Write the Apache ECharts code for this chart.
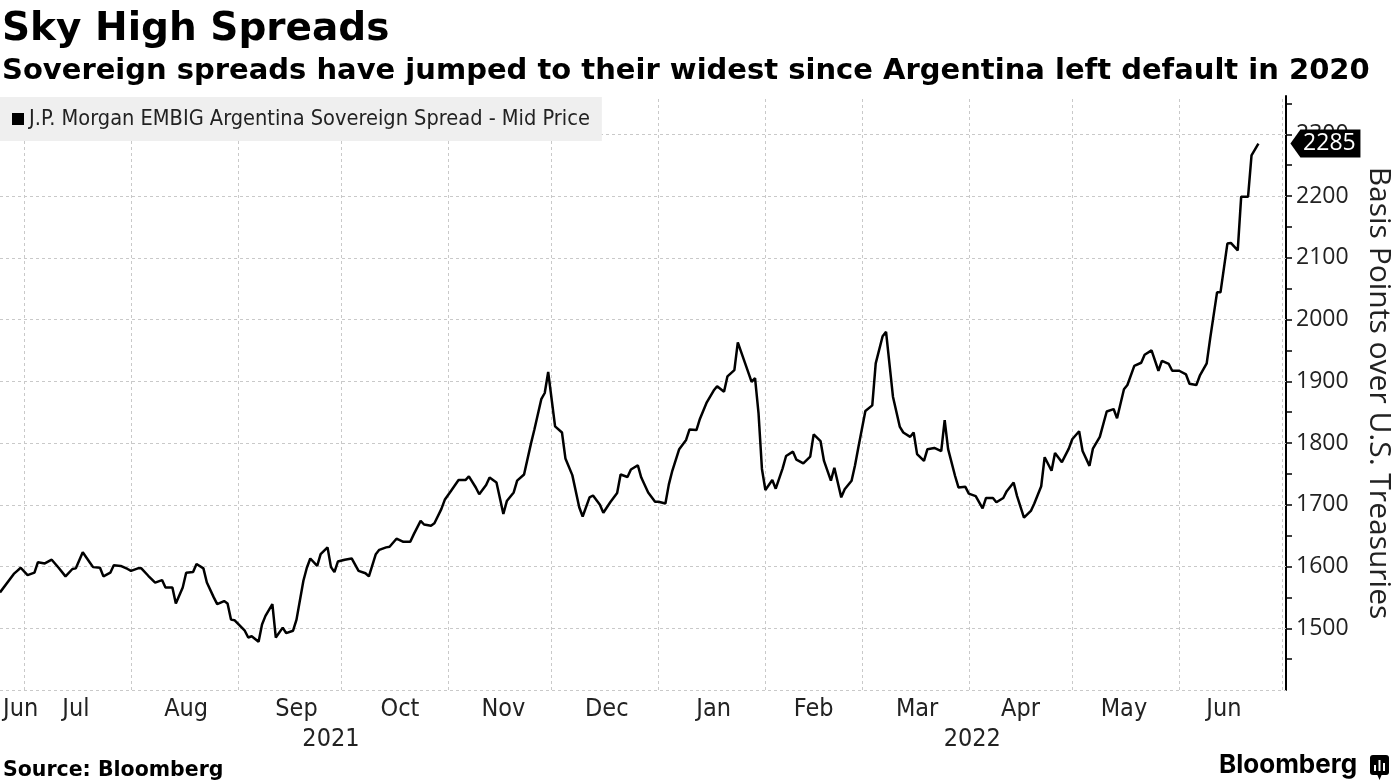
<!DOCTYPE html>
<html>
<head>
<meta charset="utf-8">
<script src="https://cdn.jsdelivr.net/npm/echarts@6/dist/echarts.min.js"></script>
<style>
html,body{margin:0;padding:0;background:#fff;}
#chart{width:1395px;height:784px;}
</style>
</head>
<body>
<div id="chart"></div>
<script>
// ---- data ----
const seriesName = 'J.P. Morgan EMBIG Argentina Sovereign Spread - Mid Price';
const dates = [
'2021-06-24','2021-06-28','2021-06-29','2021-06-30',
'2021-07-02','2021-07-04','2021-07-05','2021-07-07','2021-07-09','2021-07-11','2021-07-13','2021-07-15','2021-07-16','2021-07-18','2021-07-20','2021-07-21','2021-07-23','2021-07-24','2021-07-26','2021-07-27','2021-07-29','2021-07-31',
'2021-08-01','2021-08-03','2021-08-04','2021-08-06','2021-08-08','2021-08-10','2021-08-11','2021-08-13','2021-08-14','2021-08-16','2021-08-17','2021-08-19','2021-08-20','2021-08-22','2021-08-23','2021-08-25','2021-08-26','2021-08-28','2021-08-29','2021-08-30','2021-08-31',
'2021-09-03','2021-09-04','2021-09-05','2021-09-07','2021-09-08','2021-09-09','2021-09-11','2021-09-12','2021-09-14','2021-09-15','2021-09-17','2021-09-18','2021-09-20','2021-09-21','2021-09-22','2021-09-24','2021-09-25','2021-09-27','2021-09-28','2021-09-29','2021-09-30',
'2021-10-02','2021-10-04','2021-10-06','2021-10-08','2021-10-09','2021-10-11','2021-10-12','2021-10-14','2021-10-15','2021-10-17','2021-10-19','2021-10-21','2021-10-22','2021-10-24','2021-10-25','2021-10-27','2021-10-28','2021-10-30','2021-10-31',
'2021-11-02','2021-11-04','2021-11-06','2021-11-07','2021-11-09','2021-11-10','2021-11-12','2021-11-13','2021-11-15','2021-11-17','2021-11-18','2021-11-20','2021-11-21','2021-11-23','2021-11-25','2021-11-26','2021-11-28','2021-11-29','2021-11-30',
'2021-12-02','2021-12-04','2021-12-05','2021-12-07','2021-12-09','2021-12-10','2021-12-12','2021-12-13','2021-12-15','2021-12-16','2021-12-18','2021-12-20','2021-12-21','2021-12-23','2021-12-24','2021-12-26','2021-12-27','2021-12-29','2021-12-31',
'2022-01-01','2022-01-03','2022-01-04','2022-01-05','2022-01-07','2022-01-09','2022-01-10','2022-01-12','2022-01-13','2022-01-15','2022-01-17','2022-01-18','2022-01-20','2022-01-21','2022-01-23','2022-01-24','2022-01-26','2022-01-28','2022-01-29','2022-01-30','2022-01-31',
'2022-02-01','2022-02-03','2022-02-04','2022-02-06','2022-02-07','2022-02-09','2022-02-10','2022-02-12','2022-02-14','2022-02-15','2022-02-17','2022-02-18','2022-02-20','2022-02-21','2022-02-23','2022-02-24','2022-02-26','2022-02-27','2022-02-28',
'2022-03-02','2022-03-04','2022-03-05','2022-03-07','2022-03-08','2022-03-10','2022-03-12','2022-03-13','2022-03-15','2022-03-16','2022-03-17','2022-03-19','2022-03-20','2022-03-22','2022-03-24','2022-03-25','2022-03-26','2022-03-28','2022-03-29','2022-03-31',
'2022-04-01','2022-04-03','2022-04-05','2022-04-06','2022-04-08','2022-04-09','2022-04-11','2022-04-12','2022-04-14','2022-04-15','2022-04-17','2022-04-19','2022-04-20','2022-04-22','2022-04-23','2022-04-25','2022-04-26','2022-04-28','2022-04-30',
'2022-05-01','2022-05-03','2022-05-04','2022-05-06','2022-05-07','2022-05-09','2022-05-11','2022-05-13','2022-05-14','2022-05-16','2022-05-17','2022-05-19','2022-05-21','2022-05-22','2022-05-24','2022-05-26','2022-05-27','2022-05-29','2022-05-30',
'2022-06-01','2022-06-03','2022-06-04','2022-06-06','2022-06-07','2022-06-09','2022-06-10','2022-06-12','2022-06-13','2022-06-15','2022-06-16','2022-06-18','2022-06-19','2022-06-21','2022-06-22','2022-06-24'
];
const spreads = [
1558,1588,1593,1598,
1586,1590,1607,1605,1611,1598,1584,1596,1597,1623,1607,1599,1598,1584,1590,1602,1601,1596,
1593,1597,1597,1585,1574,1578,1566,1566,1540,1566,1590,1591,1604,1597,1574,1550,1539,1544,1540,1514,1513,
1496,1485,1487,1478,1506,1520,1539,1485,1501,1492,1496,1514,1577,1598,1613,1601,1620,1631,1599,1591,1608,
1611,1613,1593,1589,1584,1620,1627,1631,1632,1645,1640,1640,1652,1674,1668,1666,1670,1693,1708,
1724,1740,1740,1746,1728,1717,1732,1744,1736,1685,1706,1720,1739,1749,1799,1822,1871,1881,1915,
1827,1817,1775,1748,1696,1681,1712,1715,1700,1687,1704,1719,1749,1745,1757,1764,1744,1720,1705,
1705,1702,1733,1755,1790,1805,1822,1821,1839,1866,1885,1892,1883,1908,1918,1963,1931,1899,1905,1849,1758,
1724,1740,1726,1759,1779,1786,1773,1767,1778,1814,1803,1771,1739,1760,1712,1725,1739,1764,1794,
1852,1861,1929,1973,1980,1875,1826,1817,1810,1817,1782,1771,1790,1792,1787,1837,1790,1747,1728,1729,
1718,1714,1694,1711,1711,1704,1711,1722,1736,1714,1679,1690,1702,1730,1777,1755,1784,1769,1791,
1806,1819,1787,1763,1791,1810,1851,1855,1840,1887,1894,1925,1930,1943,1950,1917,1933,1928,1917,
1917,1911,1896,1894,1909,1929,1969,2044,2044,2123,2124,2112,2199,2199,2266,2285
];
// axis range and tick / label values
const axisStart = '2021-06-24';
const axisEnd = '2022-07-02';
const monthStarts = ['2021-07-01','2021-08-01','2021-09-01','2021-10-01','2021-11-01','2021-12-01','2022-01-01','2022-02-01','2022-03-01','2022-04-01','2022-05-01','2022-06-01','2022-07-01'];
const monthLabelDates = ['2021-06-30','2021-07-16','2021-08-17','2021-09-18','2021-10-18','2021-11-17','2021-12-17','2022-01-17','2022-02-15','2022-03-17','2022-04-16','2022-05-16','2022-06-14'];
const yearLabelDates = ['2021-09-28','2022-04-02'];
const yGridValues = [1400,1500,1600,1700,1800,1900,2000,2100,2200,2300];
const monthNames = ['Jan','Feb','Mar','Apr','May','Jun','Jul','Aug','Sep','Oct','Nov','Dec'];

function ts(s){ const p = s.split('-').map(Number); return new Date(p[0], p[1]-1, p[2]).getTime(); }

const seriesData = dates.map((d, i) => [ts(d), spreads[i]]);
const lastIdx = dates.length - 1;

const NARROW = '"Liberation Sans Narrow", "DejaVu Sans Condensed", "Arial Narrow", sans-serif';
const gridColor = '#c9c9c9';
const gridLine = {type: [3, 3], color: gridColor, width: 1};

const chart = echarts.init(document.getElementById('chart'), null, {renderer: 'canvas'});
chart.setOption({
  animation: false,
  backgroundColor: '#ffffff',
  title: [
    {text: 'Sky High Spreads', left: 2, top: 10, padding: 0,
     textStyle: {fontFamily: 'DejaVu Sans', fontWeight: 'bold', fontSize: 39, color: '#000'}},
    {text: 'Sovereign spreads have jumped to their widest since Argentina left default in 2020', left: 2, top: 57, padding: 0,
     textStyle: {fontFamily: 'DejaVu Sans', fontWeight: 'bold', fontSize: 29, color: '#000'}}
  ],
  legend: {
    left: 0, top: 97, padding: [11, 12, 11, 12], backgroundColor: '#efefef', z: 20,
    itemWidth: 12, itemHeight: 12, icon: 'rect', selectedMode: false,
    textStyle: {fontFamily: NARROW, fontSize: 21.6, color: '#222'},
    data: [seriesName]
  },
  grid: {left: 0, right: 109, top: 96, bottom: 94, containLabel: false, outerBoundsMode: 'none'},
  xAxis: [
    {type: 'value', min: ts(axisStart), max: ts(axisEnd), scale: true,
     axisLine: {show: false}, axisTick: {show: false}, splitLine: {show: false},
     axisLabel: {customValues: monthLabelDates.map(ts), margin: 7,
       fontFamily: NARROW, fontSize: 25, color: '#222',
       formatter: v => monthNames[new Date(v).getMonth()]}
    },
    {type: 'value', min: ts(axisStart), max: ts(axisEnd), scale: true, position: 'bottom', offset: 30,
     axisLine: {show: false}, axisTick: {show: false}, splitLine: {show: false},
     axisLabel: {customValues: yearLabelDates.map(ts), margin: 7,
       fontFamily: NARROW, fontSize: 25, color: '#222',
       formatter: v => String(new Date(v).getFullYear())}
    }
  ],
  yAxis: {
    type: 'value', position: 'right', min: 1400, max: 2362, interval: 50,
    axisLine: {show: true, onZero: false, lineStyle: {color: '#000', width: 2}},
    axisTick: {show: true, length: 6, lineStyle: {color: '#000', width: 1.5}},
    splitLine: {show: false},
    axisLabel: {margin: 10, fontFamily: 'Open Sans', fontSize: 23, color: '#222',
      showMaxLabel: false, showMinLabel: false,
      formatter: v => (v % 100 === 0 ? String(v) : '')},
    name: 'Basis Points over U.S. Treasuries', nameLocation: 'middle', nameRotate: -90, nameGap: 78,
    nameTextStyle: {fontFamily: 'Open Sans', fontSize: 30, color: '#222'}
  },
  series: [
    {
      type: 'line', name: 'grid', data: [], xAxisIndex: 0, yAxisIndex: 0, z: 1, silent: true,
      markLine: {
        silent: true, symbol: 'none', label: {show: false}, lineStyle: gridLine, z: 1,
        data: yGridValues.map(v => ({yAxis: v})).concat(monthStarts.map(d => ({xAxis: ts(d)})))
      }
    },
    {
      type: 'line', name: seriesName, data: seriesData,
      xAxisIndex: 0, yAxisIndex: 0,
      showSymbol: false, symbol: 'none',
      lineStyle: {color: '#000', width: 2.5}, itemStyle: {color: '#000'},
      z: 3,
      markPoint: {
        symbol: 'path://M0,14 L10,0 L70,0 L70,28 L10,28 Z',
        symbolSize: [70, 28], symbolOffset: [67, 0], silent: true, z: 10,
        itemStyle: {color: '#000'},
        label: {show: true, position: 'inside', offset: [4, 0], color: '#fff',
          fontFamily: 'Open Sans', fontSize: 23, formatter: '{c}'},
        data: [{coord: seriesData[lastIdx], value: spreads[lastIdx]}]
      }
    }
  ],
  graphic: [
    {type: 'text', left: 3, top: 760,
     style: {text: 'Source: Bloomberg', font: 'bold 20.5px "DejaVu Sans"', fill: '#000'}},
    {type: 'text', left: 1219, top: 752,
     style: {text: 'Bloomberg', font: 'bold 26px Inter', fill: '#000'}},
    {type: 'group', left: 1370, top: 755, children: [
      {type: 'rect', shape: {x: 0, y: 0, width: 19, height: 20, r: 3}, style: {fill: '#000'}},
      {type: 'polygon', shape: {points: [[7, 19], [12, 19], [9.5, 25]]}, style: {fill: '#000'}},
      {type: 'rect', shape: {x: 4, y: 10, width: 2, height: 6}, style: {fill: '#fff'}},
      {type: 'rect', shape: {x: 8.5, y: 5, width: 2, height: 11}, style: {fill: '#fff'}},
      {type: 'rect', shape: {x: 13, y: 8, width: 2, height: 8}, style: {fill: '#fff'}}
    ]}
  ]
});
</script>
</body>
</html>
